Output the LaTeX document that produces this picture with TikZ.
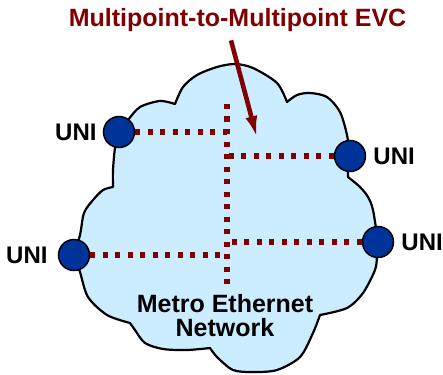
\documentclass[tikz,border=0pt]{standalone}
\usepackage{fontspec}
\setmainfont{Liberation Sans}
\usetikzlibrary{arrows.meta,positioning}

\definecolor{evcred}{RGB}{128,0,0}
\definecolor{cloudblue}{RGB}{204,236,255}
\definecolor{unifill}{RGB}{0,51,153}

\tikzset{
	cloudedge/.style={draw=black, line width=2.2pt, fill=cloudblue, line join=round},
	uni/.style={circle, draw=black, line width=1.5pt, fill=unifill, minimum size=31pt, inner sep=0pt},
	unitext/.style={font=\bfseries\fontsize{24}{24}\selectfont, inner sep=0pt},
	evcline/.style={draw=evcred, line width=5.2pt, dash pattern=on 5.2pt off 7.3pt},
	evcarrow/.style={draw=evcred, line width=4.6pt, -{Latex[length=22pt,width=12pt]}}
}

\begin{document}
\begin{tikzpicture}[x=1pt, y=-1pt]
	\useasboundingbox (0,0) rectangle (443,374);

	% cloud
	\draw[cloudedge] plot[smooth] coordinates {(119,132) (128,120) (140,107) (160,101) (175,104)}
		-- plot[smooth] coordinates {(175,104) (183,87) (197,75) (217,67) (235,64) (253,68) (277,83) (287,102)}
		-- plot[smooth] coordinates {(287,102) (297,95) (310,93) (327,97) (340,112) (347,135) (350,156)}
		-- plot[smooth] coordinates {(350,156) (348,168) (348,177)}
		-- plot[smooth] coordinates {(348,177) (360,187) (368,197) (373,210) (378,242)}
		-- plot[smooth] coordinates {(378,242) (377,256) (375,270) (363,293) (347,308) (320,315)}
		-- plot[smooth] coordinates {(320,315) (313,333) (300,357) (277,370) (253,372) (233,370) (217,357) (210,348)}
		-- plot[smooth] coordinates {(210,348) (187,350) (163,349) (145,343) (135,330) (130,323)}
		-- plot[smooth] coordinates {(130,323) (107,315) (88,297) (80,272) (74,255)}
		-- plot[smooth] coordinates {(74,255) (80,235) (84,213) (93,200) (103,190) (113,187)}
		-- plot[smooth] coordinates {(113,187) (113,170) (115,148) (119,132)} -- cycle;

	% UNIs
	\node[uni] (uniA) at (119,132) {};
	\node[uni] (uniB) at (350,156) {};
	\node[uni] (uniC) at (74,255) {};
	\node[uni] (uniD) at (378,242) {};
	\node[unitext, left=6pt of uniA] (labA) {UNI};
	\node[unitext, right=7pt of uniB] (labB) {UNI};
	\node[unitext, left=10pt of uniC] (labC) {UNI};
	\node[unitext, right=7pt of uniD] (labD) {UNI};

	% EVC
	\coordinate (evctop) at (227,104);
	\coordinate (evcbot) at (227,284);
	\foreach \n/\y in {jA/132, jB/156, jC/255, jD/242}
		\coordinate (\n) at (227,\y);
	\draw[evcline] (evctop) -- (evcbot);
	\draw[evcline] (uniA) -- (jA);
	\draw[evcline] (uniB) -- (jB);
	\draw[evcline] (uniC) -- (jC);
	\draw[evcline] (uniD) -- (jD);

	\node[font=\bfseries\fontsize{25}{25}\selectfont, text=evcred, anchor=base, inner sep=0pt] (title) at (237.5,27) {Multipoint-to-Multipoint EVC};
	\coordinate (evctip) at (257,138);
	\draw[evcarrow] ([shift={(-6.5,8)}]title.south) -- (evctip);

	\node[font=\bfseries\fontsize{25}{24}\selectfont, align=center, inner sep=0pt] (men) at (225,316) {Metro Ethernet\\Network};
\end{tikzpicture}
\end{document}
